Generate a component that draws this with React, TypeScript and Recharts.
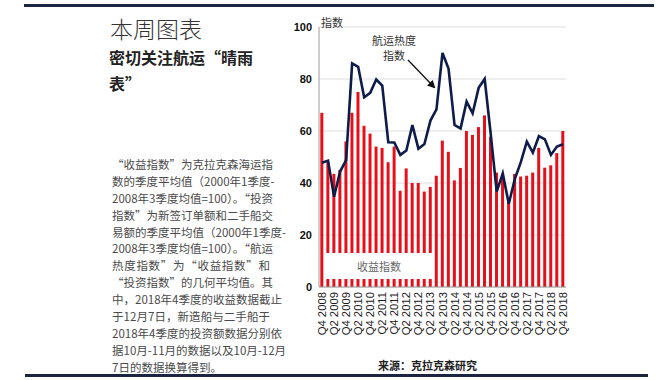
import React from "react";
import { ComposedChart, Bar, Line, XAxis, YAxis, CartesianGrid } from "recharts";

const quarters = [
  "Q4 2008",
  "Q1 2009", "Q2 2009", "Q3 2009", "Q4 2009",
  "Q1 2010", "Q2 2010", "Q3 2010", "Q4 2010",
  "Q1 2011", "Q2 2011", "Q3 2011", "Q4 2011",
  "Q1 2012", "Q2 2012", "Q3 2012", "Q4 2012",
  "Q1 2013", "Q2 2013", "Q3 2013", "Q4 2013",
  "Q1 2014", "Q2 2014", "Q3 2014", "Q4 2014",
  "Q1 2015", "Q2 2015", "Q3 2015", "Q4 2015",
  "Q1 2016", "Q2 2016", "Q3 2016", "Q4 2016",
  "Q1 2017", "Q2 2017", "Q3 2017", "Q4 2017",
  "Q1 2018", "Q2 2018", "Q3 2018", "Q4 2018",
];

// 收益指数
const earningsIndex = [
  67, 48, 43.5, 45, 56, 67, 75, 62, 59, 54, 53.5, 48, 54, 37, 45.6, 40, 40, 36.7, 38.5, 42.8,
  56.3, 52, 41, 45.8, 60, 58.5, 61.5, 66, 57.8, 44, 43, 33, 43.5, 42.5, 42.8, 44, 53.5, 45.9,
  46.8, 51.5, 60,
];

// 航运热度指数
const heatIndex = [
  47.8, 48.6, 34.7, 44.4, 48.8, 86, 84.7, 73, 74.7, 79.8, 77.5, 55.7, 55.6, 50.8, 52.5, 62.3,
  53.2, 55, 64, 68.3, 90, 84, 62.3, 61, 71.3, 66.8, 76.6, 80, 59, 36.7, 43.7, 32, 41.5, 48,
  55.9, 51.7, 58, 56.8, 50.8, 54, 54.9,
];

const yTicks = [0, 20, 40, 60, 80, 100];

const paragraphLines = [
  "“收益指数”为克拉克森海运指",
  "数的季度平均值（2000年1季度-",
  "2008年3季度均值=100）。“投资",
  "指数”为新签订单额和二手船交",
  "易额的季度平均值（2000年1季度-",
  "2008年3季度均值=100）。“航运",
  "热度指数”为“收益指数”和",
  "“投资指数”的几何平均值。其",
  "中，2018年4季度的收益数据截止",
  "于12月7日，新造船与二手船于",
  "2018年4季度的投资额数据分别依",
  "据10月-11月的数据以及10月-12月",
  "7日的数据换算得到。",
];

const data = quarters.map((q, i) => ({ q, earnings: earningsIndex[i], heat: heatIndex[i] }));

const CJK = '"Noto Sans CJK SC", "Noto Sans", sans-serif';
const LATIN = '"Liberation Sans", Arial, sans-serif';

const XTick = (props: any) => {
  const { x, y, payload } = props;
  return (
    <g transform={`translate(${x},${y})`}>
      <text
        transform="rotate(-90)"
        x={-5}
        y={0}
        dy={4}
        textAnchor="end"
        fontSize={11.3}
        fontFamily={LATIN}
        fill="#1a1a1a"
      >
        {payload.value}
      </text>
    </g>
  );
};

export default function App() {
  return (
    <div style={{ position: "absolute", left: 0, top: 0, width: 670, height: 380, background: "#fff", overflow: "hidden" }}>
      {/* top and bottom rules */}
      <div style={{ position: "absolute", left: 24, top: 4, width: 630, height: 3, background: "#1b2440" }} />
      <div style={{ position: "absolute", left: 25, top: 374, width: 623, height: 3, background: "#1b2440" }} />

      {/* left text panel */}
      <div style={{ position: "absolute", left: 110, top: 13, fontFamily: CJK, fontSize: 23, fontWeight: 300, color: "#333", lineHeight: "30px", whiteSpace: "nowrap" }}>
        本周图表
      </div>
      <div style={{ position: "absolute", left: 109, top: 44, fontFamily: CJK, fontSize: 16, fontWeight: 700, color: "#222", lineHeight: "26px", whiteSpace: "nowrap" }}>
        <div>密切关注航运“晴雨</div>
        <div>表”</div>
      </div>
      <div style={{ position: "absolute", left: 112, top: 156, width: 158, fontFamily: CJK, fontSize: 11.5, color: "#4a4a4a" }}>
        {paragraphLines.map((l, i) => (
          <div
            key={i}
            style={{
              height: 16.9,
              lineHeight: "16.9px",
              whiteSpace: "nowrap",
              textAlign: i === paragraphLines.length - 1 ? "left" : "justify",
              textAlignLast: i === paragraphLines.length - 1 ? "left" : "justify",
            } as any}
          >
            {l}
          </div>
        ))}
      </div>

      {/* chart */}
      <div style={{ position: "absolute", left: 270, top: 0 }}>
        <ComposedChart
          width={300}
          height={380}
          data={data}
          margin={{ top: 27, right: 4, bottom: 63, left: 0 }}
          barCategoryGap="22%"
        >
          <CartesianGrid vertical={false} stroke="#dedede" strokeWidth={1} />
          <XAxis
            dataKey="q"
            interval={1}
            height={30}
            tick={<XTick />}
            tickLine={false}
            tickSize={0}
            tickMargin={0}
            axisLine={{ stroke: "#9a9a9a" }}
          />
          <YAxis
            domain={[0, 100]}
            ticks={yTicks}
            width={49}
            tickLine={false}
            tickSize={0}
            tickMargin={7}
            axisLine={{ stroke: "#9a9a9a" }}
            tick={{ fontSize: 11, fill: "#111", fontFamily: LATIN, fontWeight: 600 }}
          />
          <Bar dataKey="earnings" fill="#e6101a" isAnimationActive={false} />
          <Line
            dataKey="heat"
            type="linear"
            stroke="#0e1c4a"
            strokeWidth={2.6}
            dot={false}
            isAnimationActive={false}
          />
        </ComposedChart>
      </div>

      {/* legend box over bars */}
      <div style={{ position: "absolute", left: 325, top: 253, width: 108, height: 26, background: "#fff", textAlign: "center", lineHeight: "26px", fontFamily: CJK, fontSize: 11, color: "#666" }}>
        收益指数
      </div>

      {/* y-axis title */}
      <div style={{ position: "absolute", left: 321, top: 15, fontFamily: CJK, fontSize: 11, color: "#333", lineHeight: "15px" }}>
        指数
      </div>

      {/* line annotation */}
      <div style={{ position: "absolute", left: 364, top: 33, width: 60, textAlign: "center", fontFamily: CJK, fontSize: 11, color: "#333", lineHeight: "15px" }}>
        <div>航运热度</div>
        <div>指数</div>
      </div>
      <svg style={{ position: "absolute", left: 0, top: 0 }} width={670} height={380}>
        <defs>
          <marker id="ah" markerWidth="8" markerHeight="8" refX="6" refY="4" orient="auto" markerUnits="userSpaceOnUse">
            <path d="M0,0 L8,4 L0,8 z" fill="#111" />
          </marker>
        </defs>
        <line x1={408} y1={60} x2={434} y2={87} stroke="#111" strokeWidth={1.3} markerEnd="url(#ah)" />
      </svg>

      {/* source */}
      <div style={{ position: "absolute", left: 330, top: 357, width: 195, textAlign: "center", fontFamily: CJK, fontSize: 11, fontWeight: 700, color: "#222", lineHeight: "16px" }}>
        来源：克拉克森研究
      </div>
    </div>
  );
}
